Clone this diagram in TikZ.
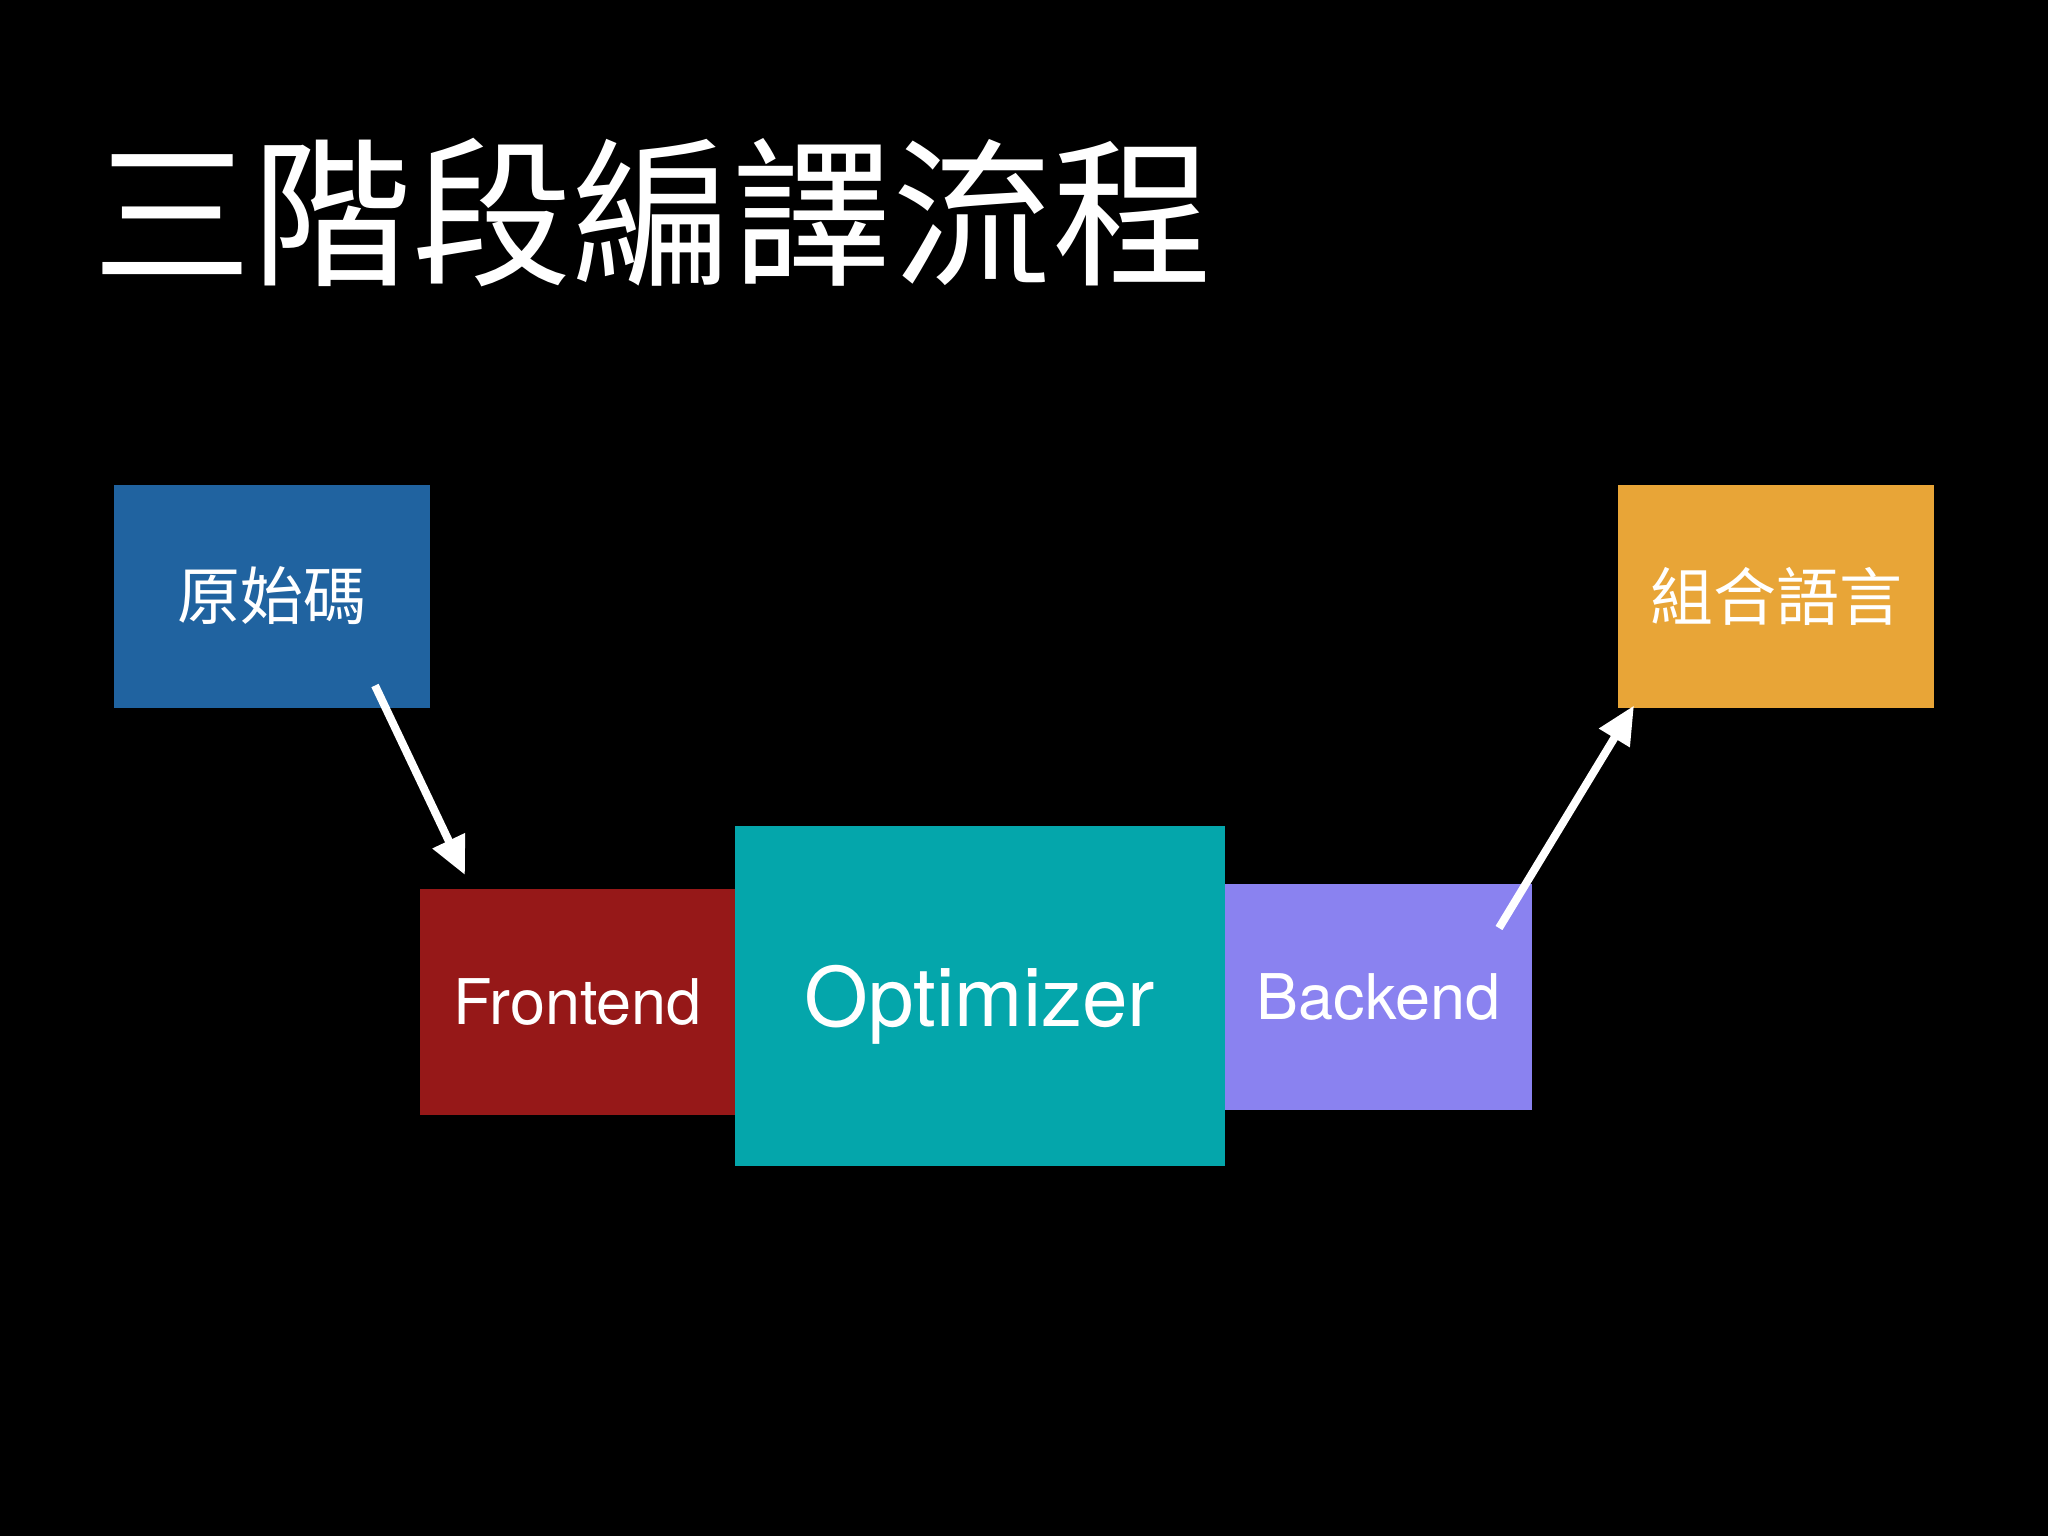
\documentclass[tikz,border=0pt]{standalone}
\usepackage{fontspec}
\setmainfont{TeX Gyre Heros}
\newfontfamily\cjk{Noto Sans CJK TC}
\usetikzlibrary{arrows.meta,calc}
\definecolor{srcblue}{RGB}{32,99,160}
\definecolor{fered}{RGB}{150,24,24}
\definecolor{optteal}{RGB}{4,166,171}
\definecolor{bepurple}{RGB}{138,130,240}
\definecolor{asmorange}{RGB}{232,165,55}
\tikzset{
  box/.style={rectangle, inner sep=0pt, outer sep=0pt, text=white, align=center},
  cjklabel/.style={font=\cjk\fontsize{31.5}{36}\selectfont},
  latlabel/.style={font=\fontsize{31.5}{36}\selectfont},
  arr/.style={draw=white, line width=4pt, -{Triangle[length=19pt,width=17pt]}}
}
\begin{document}
\begin{tikzpicture}[x=0.5pt,y=-0.5pt]
\useasboundingbox (0,0) rectangle (2048,1536);
\fill[black] (0,0) rectangle (2048,1536);
% title
\node[anchor=base west, text=white, inner sep=0pt, font=\cjk\fontsize{80}{90}\selectfont] (title) at (92,273) {三階段編譯流程};
% boxes
\node[box, fill=srcblue, minimum width=316pt*0.5, minimum height=223pt*0.5, cjklabel] (src) at (272,596) {原始碼};
\node[box, fill=asmorange, minimum width=316pt*0.5, minimum height=223pt*0.5, cjklabel] (asm) at (1776,596) {組合語言};
\node[box, fill=fered, minimum width=315pt*0.5, minimum height=226pt*0.5, latlabel] (fe) at (577.5,1002) {Frontend};
\node[box, fill=optteal, minimum width=490pt*0.5, minimum height=340pt*0.5, text depth=0pt, font=\fontsize{41}{48}\selectfont] (opt) at (980,995.5) {Optimizer};
\node[box, fill=bepurple, minimum width=307pt*0.5, minimum height=226pt*0.5, latlabel] (be) at (1378.5,997) {Backend};
% arrows
\draw[arr] ($(src.south east)+(-55,-22)$) -- ($(fe.north west)+(45,-14)$);
\draw[arr] ($(be.north east)+(-33,44)$) -- ($(asm.south west)+(16,-2)$);
\end{tikzpicture}
\end{document}
